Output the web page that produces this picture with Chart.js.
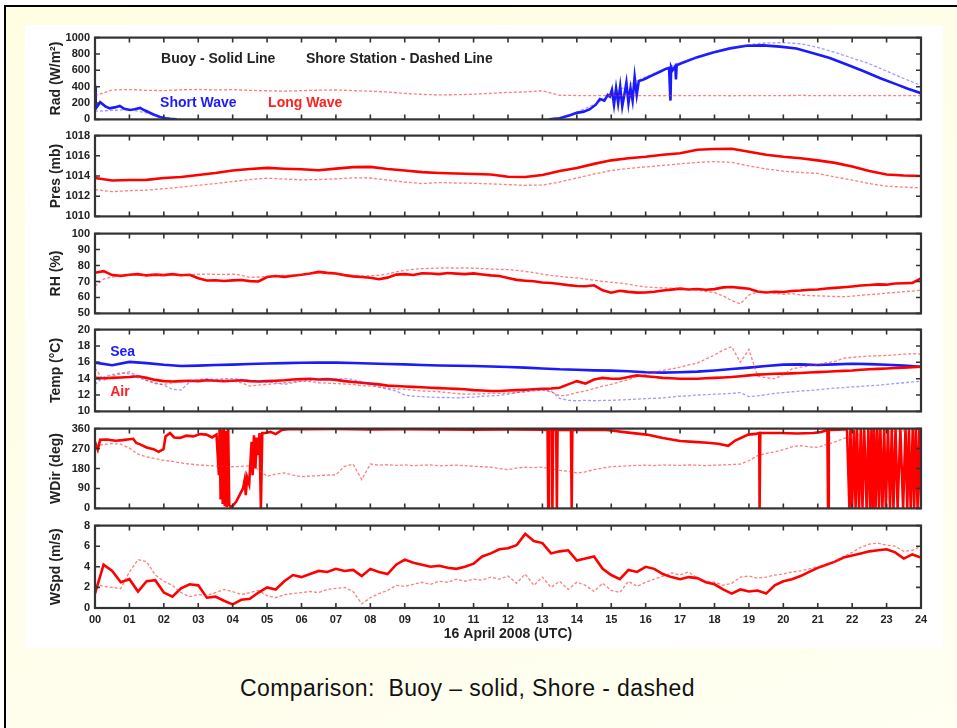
<!DOCTYPE html>
<html>
<head>
<meta charset="utf-8">
<title>Buoy vs Shore Station, 16 April 2008</title>
<script src="https://cdn.jsdelivr.net/npm/chart.js@4"></script>
<style>
  body { margin: 0; width: 957px; height: 728px; overflow: hidden; position: relative; background: #fff;
         font-family: "Liberation Sans", Arial, sans-serif; }
  #slide { position: absolute; left: 4px; top: 5px; right: 0; bottom: 0;
           border-top: 2px solid #000; border-left: 2px solid #000;
           background: linear-gradient(160deg, #fffde2 0%, #fffff2 100%); }
  #plotBg { position: absolute; left: 25px; top: 25px; width: 918px; height: 623px; background: #fff; }
  .panel { position: absolute; left: 25px; width: 918px; }
  .panel canvas { display: block; }
  #caption { position: absolute; left: 0; width: 935px; top: 674px; line-height: 28px;
             text-align: center; font-size: 23px; letter-spacing: 0.4px; color: #111; }
</style>
</head>
<body>
<div id="slide"></div>
<div id="plotBg"></div>
<div id="panels"></div>
<div id="caption">Comparison:&nbsp; Buoy – solid, Shore - dashed</div>
<script>
// time axes (hours UTC)
var hoursHalf = [0,0.5,1,1.5,2,2.5,3,3.5,4,4.5,5,5.5,6,6.5,7,7.5,8,8.5,9,9.5,10,10.5,11,11.5,
  12,12.5,13,13.5,14,14.5,15,15.5,16,16.5,17,17.5,18,18.5,19,19.5,20,20.5,21,21.5,22,22.5,23,23.5,24];
var hoursQtr = [0,0.25,0.5,0.75,1,1.25,1.5,1.75,2,2.25,2.5,2.75,3,3.25,3.5,3.75,
  4,4.25,4.5,4.75,5,5.25,5.5,5.75,6,6.25,6.5,6.75,7,7.25,7.5,7.75,
  8,8.25,8.5,8.75,9,9.25,9.5,9.75,10,10.25,10.5,10.75,11,11.25,11.5,11.75,
  12,12.25,12.5,12.75,13,13.25,13.5,13.75,14,14.25,14.5,14.75,15,15.25,15.5,15.75,
  16,16.25,16.5,16.75,17,17.25,17.5,17.75,18,18.25,18.5,18.75,19,19.25,19.5,19.75,
  20,20.25,20.5,20.75,21,21.25,21.5,21.75,22,22.25,22.5,22.75,23,23.25,23.5,23.75,24];
var hourTicks = ['00','01','02','03','04','05','06','07','08','09','10','11','12',
  '13','14','15','16','17','18','19','20','21','22','23','24'];

// radiation (W/m2)
var swBuoyHours = [0,0.02,0.05,0.15,0.3,0.43,0.6,0.72,0.85,1.02,
  1.15,1.31,1.4,1.5,1.7,1.89,2.05,2.18,2.37,2.5,
  13.2,13.5,13.8,14.0,14.2,14.38,14.55,14.67,14.8,14.9,
  14.96,15.02,15.08,15.14,15.2,15.26,15.32,15.38,15.44,15.5,
  15.56,15.62,15.68,15.74,15.8,15.9,16.0,16.22,16.4,16.6,
  16.68,16.72,16.74,16.78,16.86,16.88,16.9,17.0,17.48,17.96,
  18.45,18.93,19.41,19.9,20.38,20.87,21.35,21.84,22.32,22.8,
  23.29,23.6,24];
var swBuoy = [410,130,150,210,160,135,150,165,130,115,
  125,140,120,100,60,30,15,8,0,null,
  0,15,50,80,95,125,180,250,230,300,
  280,360,180,380,200,400,160,300,450,200,
  380,230,520,300,470,480,500,545,580,620,
  630,230,640,600,650,490,660,680,758,817,
  868,900,905,890,866,810,750,672,592,506,
  428,378,320];
var swShore = [100,110,120,80,20,0,null,null,null,null,null,null,null,null,null,null,null,null,
  null,null,null,null,null,null,null,null,0,20,90,180,300,420,520,610,690,770,830,880,
  915,935,938,925,880,820,750,680,590,500,415];
var lwShore = [290,360,365,355,352,362,366,360,364,355,350,346,352,357,360,352,345,335,
  318,305,300,302,308,318,330,336,350,295,292,290,293,290,291,289,292,290,291,289,
  292,290,291,293,290,292,291,290,292,291,290];

// pressure (mb)
var presBuoy = [1013.8,1013.55,1013.6,1013.62,1013.8,1013.9,1014.1,1014.3,1014.55,1014.7,
  1014.8,1014.72,1014.67,1014.57,1014.73,1014.88,1014.9,1014.7,1014.55,1014.38,
  1014.3,1014.25,1014.2,1014.15,1013.93,1013.9,1014.1,1014.5,1014.8,1015.2,
  1015.55,1015.75,1015.9,1016.1,1016.25,1016.6,1016.68,1016.7,1016.4,1016.1,
  1015.9,1015.75,1015.55,1015.3,1014.95,1014.5,1014.15,1014.05,1014.0];
var presShore = [1012.65,1012.45,1012.55,1012.6,1012.75,1012.9,1013.08,1013.25,1013.45,1013.65,
  1013.78,1013.7,1013.62,1013.65,1013.71,1013.82,1013.8,1013.6,1013.4,1013.25,
  1013.35,1013.3,1013.28,1013.22,1013.15,1013.08,1013.1,1013.4,1013.8,1014.2,
  1014.55,1014.75,1014.9,1015.05,1015.2,1015.35,1015.43,1015.35,1015.0,1014.7,
  1014.48,1014.35,1014.25,1013.9,1013.6,1013.25,1013.0,1012.9,1012.83];

// relative humidity (%)
var rhBuoy = [75.5,76.5,74.0,73.5,74.2,74.6,73.8,74.3,
  74.0,74.6,73.9,74.2,72.0,70.6,70.8,70.3,
  70.7,70.9,70.2,70.0,72.8,73.4,72.9,73.6,
  74.2,75.0,76.0,75.4,75.0,74.0,73.2,72.8,
  72.3,71.4,72.4,74.3,74.6,74.1,75.2,75.0,
  74.6,75.3,74.9,74.6,75.1,74.4,73.8,73.4,
  72.2,71.0,70.5,70.1,69.4,69.0,68.4,67.7,
  67.2,67.0,67.6,64.5,63.0,64.2,63.5,63.0,
  63.1,63.6,64.4,64.9,65.5,65.0,65.3,64.8,
  65.2,66.3,66.5,66.0,65.5,63.7,63.1,63.6,
  63.4,64.0,64.3,64.8,65.0,65.6,66.0,66.4,
  66.9,67.5,67.8,68.2,68.0,68.7,68.9,69.1,
  72.0];
var rhShore = [67.0,71.5,72.8,73.5,73.9,74.0,73.8,74.0,
  73.9,74.1,73.8,74.3,74.5,74.6,74.5,74.4,
  74.6,74.0,72.5,72.8,73.2,73.6,73.8,74.0,
  74.3,74.8,75.3,75.0,74.8,74.2,73.8,73.5,
  73.6,73.9,74.8,76.0,77.0,77.6,78.0,78.2,
  78.4,78.5,78.4,78.5,78.3,78.1,77.8,77.6,
  77.4,77.0,76.3,75.5,74.6,73.8,73.2,72.6,
  72.2,71.6,70.8,70.0,69.5,69.0,68.3,67.3,
  66.6,66.2,66.0,65.8,65.7,65.2,64.6,63.8,
  63.0,61.0,58.0,56.0,61.5,63.5,63.8,62.6,
  62.0,62.4,61.6,61.2,61.0,60.8,60.6,60.5,
  60.8,61.3,61.8,62.1,62.6,63.1,63.6,64.0,
  64.5];

// temperature (deg C)
var seaBuoy = [15.96,15.65,16.05,15.9,15.7,15.55,15.6,15.68,15.72,15.8,
  15.86,15.9,15.95,15.96,15.96,15.92,15.85,15.8,15.75,15.68,
  15.62,15.58,15.55,15.48,15.42,15.35,15.25,15.15,15.1,15.02,
  14.98,14.9,14.78,14.74,14.78,14.86,15.0,15.18,15.35,15.55,
  15.72,15.75,15.68,15.75,15.82,15.78,15.7,15.6,15.45];
var seaShore = [13.3,14.2,14.5,14.7,14.6,14.1,13.8,13.5,
  13.2,12.7,12.6,13.6,13.9,14.0,13.9,14.0,
  14.0,13.9,13.8,13.7,13.6,13.5,13.3,13.5,
  13.7,13.8,13.85,13.9,13.95,14.0,13.9,13.6,
  13.4,13.0,12.7,12.5,12.0,11.85,11.8,11.75,
  11.7,11.7,11.65,11.7,11.75,11.85,11.9,11.95,
  12.1,12.3,12.45,12.6,12.7,12.5,11.6,11.35,
  11.3,11.35,11.3,11.35,11.35,11.4,11.45,11.5,
  11.55,11.6,11.65,11.75,11.85,11.9,12.0,12.05,
  12.1,12.15,12.2,12.3,11.8,11.9,12.05,12.2,
  12.3,12.4,12.5,12.55,12.65,12.75,12.85,12.9,
  13.0,13.05,13.15,13.2,13.3,13.4,13.5,13.6,
  13.7];
var airBuoy = [14.1,14.05,14.1,14.15,14.2,14.3,14.1,13.85,
  13.7,13.65,13.7,13.75,13.7,13.8,13.75,13.7,
  13.75,13.8,13.7,13.65,13.7,13.75,13.8,13.9,
  13.95,14.0,13.9,13.95,13.85,13.7,13.6,13.5,
  13.4,13.3,13.15,13.1,13.05,13.0,12.95,12.9,
  12.85,12.8,12.75,12.7,12.6,12.55,12.5,12.5,
  12.55,12.6,12.65,12.7,12.75,12.8,12.9,13.3,
  13.7,13.4,13.9,14.1,14.0,14.0,14.2,14.4,
  14.3,14.2,14.1,14.05,14.0,14.0,14.0,14.05,
  14.1,14.15,14.2,14.3,14.4,14.5,14.55,14.6,
  14.62,14.65,14.7,14.75,14.8,14.85,14.9,14.95,
  15.0,15.1,15.15,15.2,15.25,15.3,15.35,15.4,
  15.45];
var airShore = [15.3,13.8,14.3,14.6,14.85,14.3,13.8,13.4,
  13.3,13.5,13.6,13.7,13.85,13.8,13.7,13.75,
  13.7,13.5,13.1,13.2,13.3,13.4,13.5,13.6,
  13.7,13.65,13.5,13.45,13.4,13.35,13.3,13.15,
  13.1,13.0,12.85,12.75,12.7,12.6,12.5,12.45,
  12.4,12.3,12.2,12.1,12.1,12.15,12.2,12.2,
  12.25,12.3,12.4,12.5,12.6,12.4,11.9,12.0,
  12.3,12.5,12.8,13.1,13.3,13.6,13.9,14.25,
  14.5,14.8,15.0,15.2,15.4,15.7,15.9,16.4,
  16.9,17.5,17.9,16.0,17.6,14.3,14.1,14.0,
  14.5,15.2,15.4,15.55,15.7,15.95,16.1,16.5,
  16.6,16.7,16.75,16.8,16.85,16.9,17.0,17.05,
  17.0];

// wind direction (deg)
var wdirBuoyHours = [0,0.08,0.15,0.34,0.6,0.8,1.0,1.11,1.2,1.31,
  1.5,1.7,1.85,1.99,2.05,2.18,2.3,2.47,2.65,2.86,
  3.05,3.24,3.4,3.53,3.6,3.62,3.65,3.68,3.71,3.74,
  3.77,3.8,3.83,3.87,3.9,3.95,4.0,4.1,4.2,4.3,
  4.35,4.38,4.42,4.48,4.55,4.58,4.62,4.66,4.7,4.75,
  4.78,4.82,4.86,4.95,5.1,5.25,5.43,5.6,6,7,
  8,9,10,11,12,13,13.15,13.17,13.19,13.27,
  13.29,13.31,13.4,13.42,13.44,13.83,13.85,13.87,14.2,14.86,
  15.06,15.5,16.03,16.5,17.0,17.4,17.8,18.1,18.4,18.6,
  18.98,19.2,19.3,19.31,19.33,19.9,20.4,20.87,21.1,21.28,
  21.3,21.32,21.6,21.85,21.92,21.95,22.0,22.05,22.1,22.14,
  22.2,22.25,22.3,22.35,22.42,22.47,22.52,22.56,22.6,22.64,
  22.68,22.73,22.78,22.82,22.88,22.93,22.98,23.04,23.1,23.15,
  23.2,23.26,23.32,23.4,23.48,23.55,23.6,23.65,23.7,23.76,
  23.8,23.85,23.9,23.95,24];
var wdirBuoy = [300,265,310,311,305,308,312,314,295,289,
  275,267,255,267,325,340,320,318,328,325,
  335,333,320,333,150,360,40,355,20,360,
  10,350,5,360,15,5,12,30,60,90,
  130,60,140,110,300,150,330,180,320,240,
  340,0,340,340,345,335,354,357,357,358,
  356,357,356,355,356,355,354,0,354,354,
  0,354,354,0,354,354,0,354,355,354,
  350,342,333,318,304,300,296,292,282,306,
  333,336,340,0,340,340,338,340,345,354,
  0,354,355,357,0,360,5,355,0,358,
  0,360,3,358,0,360,2,358,0,360,
  0,358,0,360,2,358,0,360,0,358,
  2,360,0,358,0,360,0,358,0,360,
  0,358,0,360,0];
var wdirShore = [282,288,292,290,272,245,232,225,
  217,212,205,200,196,194,191,190,
  188,190,192,175,145,155,160,150,
  143,146,148,150,152,190,200,130,
  200,195,197,194,196,193,195,196,
  192,194,195,193,190,188,186,180,
  175,182,186,184,186,178,172,168,
  160,165,175,182,188,190,192,194,
  195,193,196,195,194,196,195,193,
  195,196,198,200,215,238,248,255,
  265,278,283,278,275,288,300,315,
  325,333,338,342,346,348,350,352,
  354];

// wind speed (m/s)
var wspdBuoy = [1.4,4.2,3.6,2.5,2.8,1.6,2.6,2.7,
  1.5,1.1,1.9,2.3,2.2,1.0,1.1,0.7,
  0.35,0.8,0.9,1.5,2.0,1.8,2.6,3.2,
  3.0,3.3,3.6,3.5,3.8,3.6,3.7,3.1,
  3.8,3.5,3.3,4.2,4.7,4.4,4.2,4.0,
  4.1,3.9,3.8,4.0,4.3,5.0,5.3,5.7,
  5.8,6.1,7.2,6.5,6.3,5.3,5.5,5.6,
  4.6,4.8,5.0,3.8,3.2,2.8,3.7,3.5,
  4.0,3.8,3.3,3.0,2.8,3.0,2.9,2.5,
  2.3,1.8,1.4,1.8,1.6,1.7,1.4,2.2,
  2.6,2.8,3.1,3.5,3.9,4.2,4.5,4.9,
  5.1,5.3,5.5,5.6,5.7,5.4,4.8,5.2,
  4.9];
var wspdShore = [2.3,2.1,2.0,1.9,3.5,4.7,4.5,3.2,
  2.6,2.2,1.5,1.1,1.3,1.2,1.5,1.8,
  1.6,1.3,1.5,1.7,1.2,1.0,1.3,1.4,
  1.5,1.6,1.5,1.8,1.9,2.0,1.6,0.4,
  1.0,1.4,1.7,2.2,2.1,2.3,2.5,2.3,
  2.6,2.5,2.8,2.6,2.8,2.7,3.0,2.8,
  3.1,2.4,3.3,2.2,3.0,2.0,2.6,1.8,
  2.5,2.2,1.6,2.4,1.7,1.5,2.6,2.1,
  2.5,2.8,3.1,3.4,3.2,3.5,2.9,2.6,
  2.5,2.2,2.4,3.0,3.1,2.9,3.0,3.2,
  3.3,3.5,3.6,3.8,4.0,4.2,4.5,5.0,
  5.4,5.9,6.2,6.3,6.1,6.0,5.5,5.6,
  6.0];

var RED = '#ff0000', RED_LIGHT = 'rgba(255,40,40,0.6)';
var BLUE = '#1a1aff', BLUE_LIGHT = 'rgba(60,60,255,0.5)';

Chart.defaults.font.family = '"Liberation Sans", Arial, sans-serif';
Chart.defaults.color = '#222';

function pts(xs, ys) {
  return xs.map(function (x, i) { return { x: x, y: ys[i] }; });
}
function solid(xs, ys, color) {
  return { data: pts(xs, ys), borderColor: color, borderWidth: 2.6, pointRadius: 0, tension: 0 };
}
function dashed(xs, ys, color) {
  return { data: pts(xs, ys), borderColor: color, borderWidth: 1.3, borderDash: [3, 2], pointRadius: 0, tension: 0 };
}

// boxed axes with inward ticks on all four sides, plus text notes in data coords
var boxAxes = {
  id: 'boxAxes',
  afterDatasetsDraw: function (chart, args, opts) {
    var ctx = chart.ctx, a = chart.chartArea, xs = chart.scales.x, ys = chart.scales.y;
    ctx.save();
    ctx.strokeStyle = '#333';
    ctx.lineWidth = 1.6;
    ctx.beginPath();
    for (var h = xs.min; h <= xs.max; h++) {
      var px = xs.getPixelForValue(h);
      ctx.moveTo(px, a.top); ctx.lineTo(px, a.top + 5);
      ctx.moveTo(px, a.bottom); ctx.lineTo(px, a.bottom - 5);
    }
    ys.ticks.forEach(function (t) {
      var py = ys.getPixelForValue(t.value);
      ctx.moveTo(a.left, py); ctx.lineTo(a.left + 5, py);
      ctx.moveTo(a.right, py); ctx.lineTo(a.right - 5, py);
    });
    ctx.stroke();
    ctx.lineWidth = 2.2;
    ctx.strokeRect(a.left, a.top, a.right - a.left, a.bottom - a.top);
    ctx.font = 'bold 14px "Liberation Sans", Arial, sans-serif';
    ctx.textBaseline = 'middle';
    ctx.textAlign = 'left';
    (opts.notes || []).forEach(function (n) {
      ctx.fillStyle = n.color;
      ctx.fillText(n.text, xs.getPixelForValue(n.x), ys.getPixelForValue(n.y));
    });
    ctx.restore();
  }
};

var PAD = 10, X_AXIS_H = 36, CANVAS_W = 918;

function makePanel(p) {
  var areaH = p.bottom - p.top;
  var h = areaH + PAD + (p.showX ? X_AXIS_H : PAD);
  var wrap = document.createElement('div');
  wrap.className = 'panel';
  wrap.style.top = (p.top - PAD) + 'px';
  var cv = document.createElement('canvas');
  cv.width = CANVAS_W; cv.height = h;
  wrap.appendChild(cv);
  document.getElementById('panels').appendChild(wrap);

  new Chart(cv, {
    type: 'line',
    data: { datasets: p.datasets },
    plugins: [boxAxes],
    options: {
      responsive: false,
      animation: false,
      events: [],
      layout: { padding: { left: 23, right: 22, top: PAD, bottom: p.showX ? 0 : PAD } },
      plugins: { legend: { display: false }, tooltip: { enabled: false }, boxAxes: { notes: p.notes } },
      scales: {
        x: {
          type: 'linear', min: 0, max: 24,
          display: !!p.showX,
          grid: { display: false, drawTicks: false },
          border: { display: false },
          ticks: {
            stepSize: 1, autoSkip: false, maxRotation: 0, padding: 5,
            font: { size: 11, weight: 'bold' },
            callback: function (v) { return hourTicks[v]; }
          },
          title: { display: !!p.showX, text: '16 April 2008 (UTC)', font: { size: 14, weight: 'bold' },
                   padding: { top: 0, bottom: 1 } },
          afterFit: function (s) { s.height = p.showX ? X_AXIS_H : 0; }
        },
        y: {
          min: p.yMin, max: p.yMax,
          grid: { display: false, drawTicks: false },
          border: { display: false },
          ticks: {
            stepSize: p.yStep, autoSkip: false, padding: 5,
            font: { size: 11, weight: 'bold' },
            callback: function (v) { return String(v); }
          },
          title: { display: true, text: p.yTitle, font: { size: 14, weight: 'bold' }, padding: { top: 0, bottom: 0 } },
          afterFit: function (s) { s.width = 47; }
        }
      }
    }
  });
}

makePanel({
  top: 36, bottom: 121, yMin: 0, yMax: 1000, yStep: 200, yTitle: 'Rad (W/m²)',
  datasets: [
    dashed(hoursHalf, lwShore, RED_LIGHT),
    dashed(hoursHalf, swShore, BLUE_LIGHT),
    solid(swBuoyHours, swBuoy, BLUE)
  ],
  notes: [
    { text: 'Buoy - Solid Line', x: 1.92, y: 741, color: '#222' },
    { text: 'Shore Station - Dashed Line', x: 6.13, y: 741, color: '#222' },
    { text: 'Short Wave', x: 1.89, y: 200, color: BLUE },
    { text: 'Long Wave', x: 5.03, y: 200, color: '#ff2020' }
  ]
});

makePanel({
  top: 134, bottom: 218, yMin: 1010, yMax: 1018, yStep: 2, yTitle: 'Pres (mb)',
  datasets: [
    dashed(hoursHalf, presShore, RED_LIGHT),
    solid(hoursHalf, presBuoy, RED)
  ]
});

makePanel({
  top: 232, bottom: 315, yMin: 50, yMax: 100, yStep: 10, yTitle: 'RH (%)',
  datasets: [
    dashed(hoursQtr, rhShore, RED_LIGHT),
    solid(hoursQtr, rhBuoy, RED)
  ]
});

makePanel({
  top: 328, bottom: 413, yMin: 10, yMax: 20, yStep: 2, yTitle: 'Temp (°C)',
  datasets: [
    dashed(hoursQtr, airShore, RED_LIGHT),
    dashed(hoursQtr, seaShore, BLUE_LIGHT),
    solid(hoursQtr, airBuoy, RED),
    solid(hoursHalf, seaBuoy, BLUE)
  ],
  notes: [
    { text: 'Sea', x: 0.44, y: 17.3, color: BLUE },
    { text: 'Air', x: 0.44, y: 12.3, color: '#ff2020' }
  ]
});

makePanel({
  top: 427, bottom: 510, yMin: 0, yMax: 360, yStep: 90, yTitle: 'WDir (deg)',
  datasets: [
    dashed(hoursQtr, wdirShore, RED_LIGHT),
    solid(wdirBuoyHours, wdirBuoy, RED)
  ]
});

makePanel({
  top: 524, bottom: 608, yMin: 0, yMax: 8, yStep: 2, yTitle: 'WSpd (m/s)', showX: true,
  datasets: [
    dashed(hoursQtr, wspdShore, RED_LIGHT),
    solid(hoursQtr, wspdBuoy, RED)
  ]
});
</script>
</body>
</html>
